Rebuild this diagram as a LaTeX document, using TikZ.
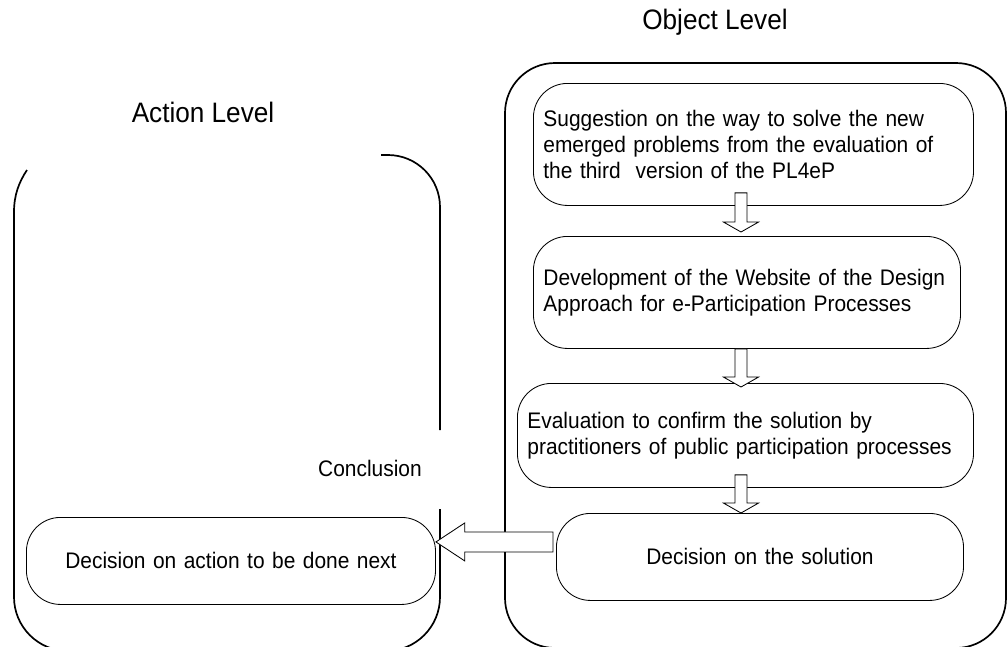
\documentclass[tikz,border=0pt]{standalone}
\usepackage{fontspec}
\setmainfont[FakeStretch=0.93]{Liberation Sans}
\usepackage{tikz}
\usetikzlibrary{calc}

\newcommand{\stagefont}{\fontsize{16}{18.5}\selectfont}
\newcommand{\levelfont}{\fontsize{20}{23}\selectfont}

\begin{document}
\begin{tikzpicture}[x=0.025cm,y=-0.025cm,
  level line/.style={line width=1.2pt},
  stage node/.style={draw,line width=0.6pt,rounded corners=0.85cm,
    inner xsep=0.25cm,inner ysep=0pt,font=\stagefont,anchor=north west},
  hollow/.style={draw,fill=white,line width=0.6pt},
  block down/.style={to path={let \p1=(\tikztostart), \p2=(\tikztotarget) in
    (\x1-0.15cm,\y1) -- (\x1+0.15cm,\y1) -- (\x1+0.15cm,\y2+0.25cm)
    -- (\x1+0.44cm,\y2+0.25cm) -- (\x1,\y2) -- (\x1-0.44cm,\y2+0.25cm)
    -- (\x1-0.15cm,\y2+0.25cm) -- cycle}},
  block left/.style={to path={let \p1=(\tikztostart), \p2=(\tikztotarget) in
    (\x1,\y1+0.25cm) -- (\x2+0.72cm,\y1+0.25cm) -- (\x2+0.72cm,\y1+0.475cm)
    -- (\x2,\y1) -- (\x2+0.72cm,\y1-0.475cm) -- (\x2+0.72cm,\y1-0.25cm)
    -- (\x1,\y1-0.25cm) -- cycle}}]

  \clip (0,0) rectangle (1008,646);

  % the two levels
  \node[font=\levelfont] (objlevel) at (715,22) {Object Level};
  \node[font=\levelfont] (actlevel) at (203,112) {Action Level};

  \draw[level line] (27,170) .. controls (19,182) and (14,195) .. (14,212)
    [rounded corners=1.35cm] -- (14,651) -- (440,651) -- (440,509);
  \draw[level line,rounded corners=1.3cm] (440,430) -- (440,155) -- (381,155);
  \draw[level line,rounded corners=1.25cm] (505,63) rectangle (1006,648);

  \node[font=\stagefont] (concl) at (370,468) {Conclusion};

  % object level steps
  \node[stage node,align=left,minimum width=11cm,minimum height=3.05cm,
    text width=10.5cm] (s1) at (533,83)
    {Suggestion on the way to solve the new\\emerged problems from the evaluation of\\the third~ version of the PL4eP};
  \node[stage node,align=left,minimum width=10.675cm,minimum height=2.8cm,
    text width=10.175cm] (s2) at (533,236)
    {Development of the Website of the Design\\Approach for e-Participation Processes};
  \node[stage node,align=left,minimum width=11.4cm,minimum height=2.6cm,
    text width=10.9cm] (s3) at (517,383)
    {Evaluation to confirm the solution by\\practitioners of public participation processes};
  \node[stage node,align=center,minimum width=10.175cm,minimum height=2.175cm,
    text width=9.675cm] (s4) at (556,513) {Decision on the solution};

  % action level step
  \node[stage node,align=center,minimum width=10.225cm,minimum height=2.175cm,
    text width=9.725cm] (s5) at (26,517) {Decision on action to be done next};

  \coordinate (axis) at (741,0);
  \draw[hollow] ($(s1.south -| axis)+(0,-13)$) to[block down] ($(s2.north -| axis)+(0,-4)$);
  \draw[hollow] (s2.south -| axis) to[block down] ($(s3.north -| axis)+(0,4)$);
  \draw[hollow] ($(s3.south -| axis)+(0,-13)$) to[block down] (s4.north -| axis);
  \draw[hollow] ($(s4.west)+(-3,-15)$) to[block left] (s5.east);

\end{tikzpicture}
\end{document}
